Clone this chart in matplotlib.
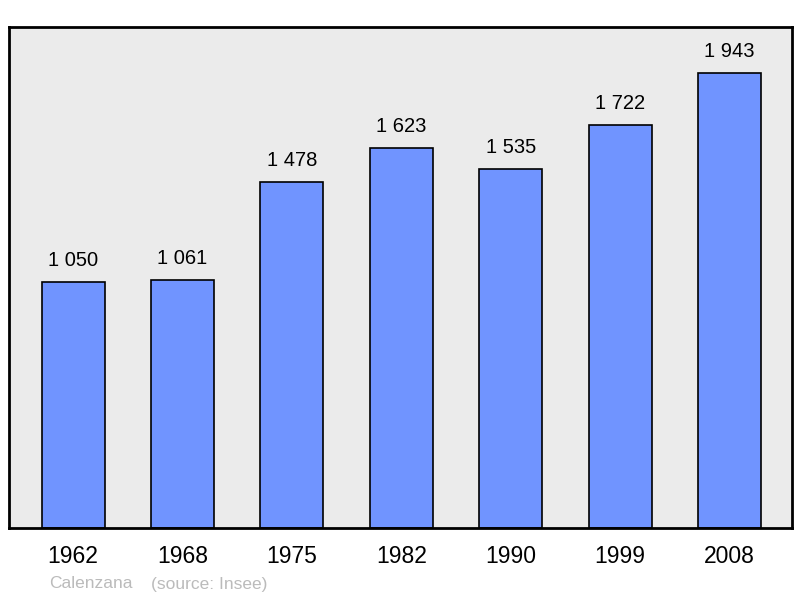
import matplotlib
matplotlib.use("Agg")
import matplotlib.pyplot as plt

years = ["1962", "1968", "1975", "1982", "1990", "1999", "2008"]
population = [1050, 1061, 1478, 1623, 1535, 1722, 1943]
labels = ["1 050", "1 061", "1 478", "1 623", "1 535", "1 722", "1 943"]

plt.rcParams['font.family'] = ['Liberation Sans', 'DejaVu Sans']

fig = plt.figure(figsize=(8, 5.98), dpi=100)
ax = fig.add_axes([9/800, 1 - 528/598, 783/800, 501/598])
ax.set_facecolor('#EBEBEB')
x = list(range(len(years)))
ax.bar(x, population, width=0.576, color='#7094FF', edgecolor='black', linewidth=1.2)
for xi, v, lab in zip(x, population, labels):
    ax.annotate(lab, (xi, v), xytext=(0, 8.5), textcoords='offset points',
                ha='center', va='bottom', fontsize=14.5, color='black')
ax.set_xlim(-0.585, 6.57)
ax.set_ylim(0, 2140)
ax.set_yticks([])
ax.set_xticks(x)
ax.set_xticklabels(years, fontsize=16.5)
ax.tick_params(axis='x', length=0, pad=12)
for s in ax.spines.values():
    s.set_linewidth(2)
    s.set_color('black')
fig.text(49/800, 1 - 584/598, "Calenzana", fontsize=12.5, color='#BBBBBB', va='center')
fig.text(151/800, 1 - 584/598, "(source: Insee)", fontsize=12.5, color='#BBBBBB', va='center')
fig.savefig("out.png", dpi=100)
